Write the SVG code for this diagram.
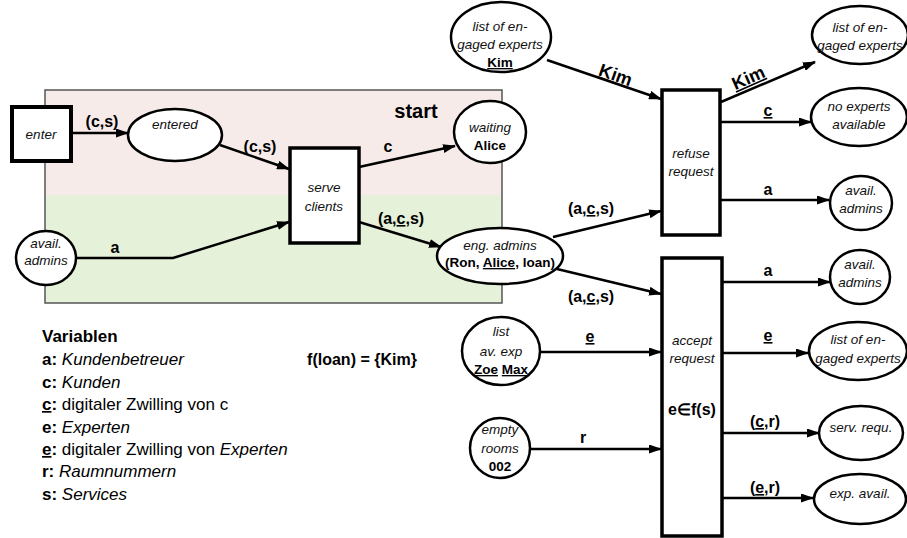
<svg xmlns="http://www.w3.org/2000/svg" width="907" height="538" viewBox="0 0 907 538">
<defs>
<style>
.bg{stroke:none}
.frame{fill:none;stroke:#555;stroke-width:1.5}
.box{fill:#fff;stroke:#000;stroke-width:3.5}
.el{fill:#fff;stroke:#000;stroke-width:2.5}
.ln{fill:none;stroke:#000;stroke-width:2.5;marker-end:url(#ah)}
text{font-family:"Liberation Sans",Arial,sans-serif;fill:#000}
.n{font-size:13.5px;font-style:italic;text-anchor:middle;fill:#111}
.nb{font-size:13.5px;font-weight:bold;text-anchor:middle}
.lb{font-size:16px;font-weight:bold;text-anchor:middle}
.k{font-size:18px;font-weight:bold;text-anchor:middle;text-decoration:underline}
.lg{font-size:17px}
.u{text-decoration:underline}
.b{font-weight:bold}
.i{font-style:italic}
</style>
<marker id="ah" viewBox="0 0 13 9" refX="12" refY="4.5" markerWidth="13" markerHeight="9" markerUnits="userSpaceOnUse" orient="auto">
<path d="M0,0 L13,4.5 L0,9 z" fill="#000"/>
</marker>
</defs>

<g id="background">
<rect class="bg" x="45" y="90" width="457" height="105" fill="#f7ebe9"/>
<rect class="bg" x="45" y="195" width="457" height="108" fill="#e5f1d8"/>
<rect class="frame" x="45" y="90" width="457" height="213"/>
<text x="416" y="118" font-size="20" font-weight="bold" text-anchor="middle">start</text>
</g>

<g id="connectors">
<path class="ln" d="M71,133 L128,133"/>
<path class="ln" d="M220,145 L289,169"/>
<path class="ln" d="M76,258 L173,258 L289,222"/>
<path class="ln" d="M359,167 L455,146"/>
<path class="ln" d="M359,222 L441,247"/>
<path class="ln" d="M547,60 L661,99"/>
<path class="ln" d="M553,237 L661,211"/>
<path class="ln" d="M557,269 L661,294"/>
<path class="ln" d="M540,352 L661,352"/>
<path class="ln" d="M530,449 L661,449"/>
<path class="ln" d="M721,102 L815,62"/>
<path class="ln" d="M721,122 L811,122"/>
<path class="ln" d="M721,200 L829,200"/>
<path class="ln" d="M722,282 L830,282"/>
<path class="ln" d="M722,353 L808,353"/>
<path class="ln" d="M722,433 L819,433"/>
<path class="ln" d="M722,498 L813,498"/>
<text class="lb" x="102" y="127">(c,s)</text>
<text class="lb" x="260" y="152">(c,s)</text>
<text class="lb" x="115" y="253">a</text>
<text class="lb" x="388" y="152">c</text>
<text class="lb" x="401" y="224">(a,<tspan class="u">c</tspan>,s)</text>
<text class="lb" x="591" y="214">(a,<tspan class="u">c</tspan>,s)</text>
<text class="lb" x="591" y="302">(a,<tspan class="u">c</tspan>,s)</text>
<text class="lb u" x="590" y="342">e</text>
<text class="lb" x="583" y="443">r</text>
<text class="k" x="616" y="81" transform="rotate(19.5 616 74)">Kim</text>
<text class="k" x="748" y="84" transform="rotate(-24 748 77)">Kim</text>
<text class="lb u" x="768" y="116">c</text>
<text class="lb" x="768" y="195">a</text>
<text class="lb" x="768" y="276">a</text>
<text class="lb u" x="768" y="341">e</text>
<text class="lb" x="765" y="427">(<tspan class="u">c</tspan>,r)</text>
<text class="lb" x="765" y="493">(<tspan class="u">e</tspan>,r)</text>
</g>

<g id="enter">
<rect x="12" y="107" width="59" height="54" fill="#fff" stroke="#000" stroke-width="4"/>
<text class="n" x="41" y="139">enter</text>
</g>

<g id="entered">
<ellipse class="el" cx="175" cy="135" rx="47" ry="26"/>
<text class="n" x="175" y="129">entered</text>
</g>

<g id="avail-admins-left">
<ellipse class="el" cx="46" cy="258" rx="30" ry="27"/>
<text class="n" x="46" y="248">avail.</text>
<text class="n" x="46" y="265">admins</text>
</g>

<g id="serve-clients">
<rect class="box" x="290" y="148" width="69" height="95"/>
<text class="n" x="324" y="192">serve</text>
<text class="n" x="324" y="211">clients</text>
</g>

<g id="waiting">
<ellipse class="el" cx="490" cy="132" rx="36" ry="31"/>
<text class="n" x="490" y="132">waiting</text>
<text class="nb" x="490" y="150">Alice</text>
</g>

<g id="eng-admins">
<ellipse class="el" cx="500" cy="256" rx="63" ry="28"/>
<text class="n" x="500" y="250" font-size="12">eng. admins</text>
<text class="nb" x="500" y="267" font-size="12">(Ron, <tspan class="u">Alice</tspan>, loan)</text>
</g>

<g id="list-engaged-kim">
<ellipse class="el" cx="501" cy="37" rx="50" ry="35"/>
<text class="n" x="500" y="31">list of en-</text>
<text class="n" x="500" y="49">gaged experts</text>
<text class="nb u" x="500" y="67">Kim</text>
</g>

<g id="refuse-request">
<rect class="box" x="662" y="90" width="58" height="145"/>
<text class="n" x="691" y="158">refuse</text>
<text class="n" x="691" y="176">request</text>
</g>

<g id="accept-request">
<rect class="box" x="662" y="258" width="60" height="278"/>
<text class="n" x="692" y="345">accept</text>
<text class="n" x="692" y="363">request</text>
<text class="lb" x="692" y="415">e∈f(s)</text>
</g>

<g id="list-av-exp">
<ellipse class="el" cx="501" cy="351" rx="39" ry="34"/>
<text class="n" x="501" y="336">list</text>
<text class="n" x="501" y="356">av. exp</text>
<text class="nb" x="501" y="374"><tspan class="u">Zoe</tspan> <tspan class="u">Max</tspan></text>
</g>

<g id="empty-rooms">
<ellipse class="el" cx="500" cy="448" rx="30" ry="30"/>
<text class="n" x="500" y="434">empty</text>
<text class="n" x="500" y="453">rooms</text>
<text class="nb" x="500" y="471">002</text>
</g>

<g id="list-engaged-top-right">
<ellipse class="el" cx="860" cy="35" rx="48" ry="29"/>
<text class="n" x="860" y="32">list of en-</text>
<text class="n" x="860" y="50">gaged experts</text>
</g>

<g id="no-experts">
<ellipse class="el" cx="859" cy="117" rx="48" ry="29"/>
<text class="n" x="859" y="111">no experts</text>
<text class="n" x="859" y="129">available</text>
</g>

<g id="avail-admins-refuse">
<ellipse class="el" cx="861" cy="203" rx="31" ry="27"/>
<text class="n" x="861" y="195">avail.</text>
<text class="n" x="861" y="213">admins</text>
</g>

<g id="avail-admins-accept">
<ellipse class="el" cx="860" cy="277" rx="30" ry="27"/>
<text class="n" x="860" y="269">avail.</text>
<text class="n" x="860" y="287">admins</text>
</g>

<g id="list-engaged-accept">
<ellipse class="el" cx="858" cy="351" rx="49" ry="29"/>
<text class="n" x="858" y="344">list of en-</text>
<text class="n" x="858" y="363">gaged experts</text>
</g>

<g id="serv-requ">
<ellipse class="el" cx="861" cy="433" rx="42" ry="27"/>
<text class="n" x="861" y="432">serv. requ.</text>
</g>

<g id="exp-avail">
<ellipse class="el" cx="860" cy="499" rx="46" ry="25"/>
<text class="n" x="860" y="498">exp. avail.</text>
</g>

<g id="legend">
<text class="lg b" x="42" y="342">Variablen</text>
<text class="lg" x="42" y="365"><tspan class="b">a:</tspan> <tspan class="i">Kundenbetreuer</tspan></text>
<text class="lg" x="42" y="388"><tspan class="b">c:</tspan> <tspan class="i">Kunden</tspan></text>
<text class="lg" x="42" y="410"><tspan class="b u">c</tspan><tspan class="b">:</tspan> digitaler Zwilling von c</text>
<text class="lg" x="42" y="433"><tspan class="b">e:</tspan> <tspan class="i">Experten</tspan></text>
<text class="lg" x="42" y="455"><tspan class="b u">e</tspan><tspan class="b">:</tspan> digitaler Zwilling von <tspan class="i">Experten</tspan></text>
<text class="lg" x="42" y="477"><tspan class="b">r:</tspan> <tspan class="i">Raumnummern</tspan></text>
<text class="lg" x="42" y="500"><tspan class="b">s:</tspan> <tspan class="i">Services</tspan></text>
<text x="362" y="365" font-size="16" font-weight="bold" text-anchor="middle">f(loan) = {Kim}</text>
</g>
</svg>
